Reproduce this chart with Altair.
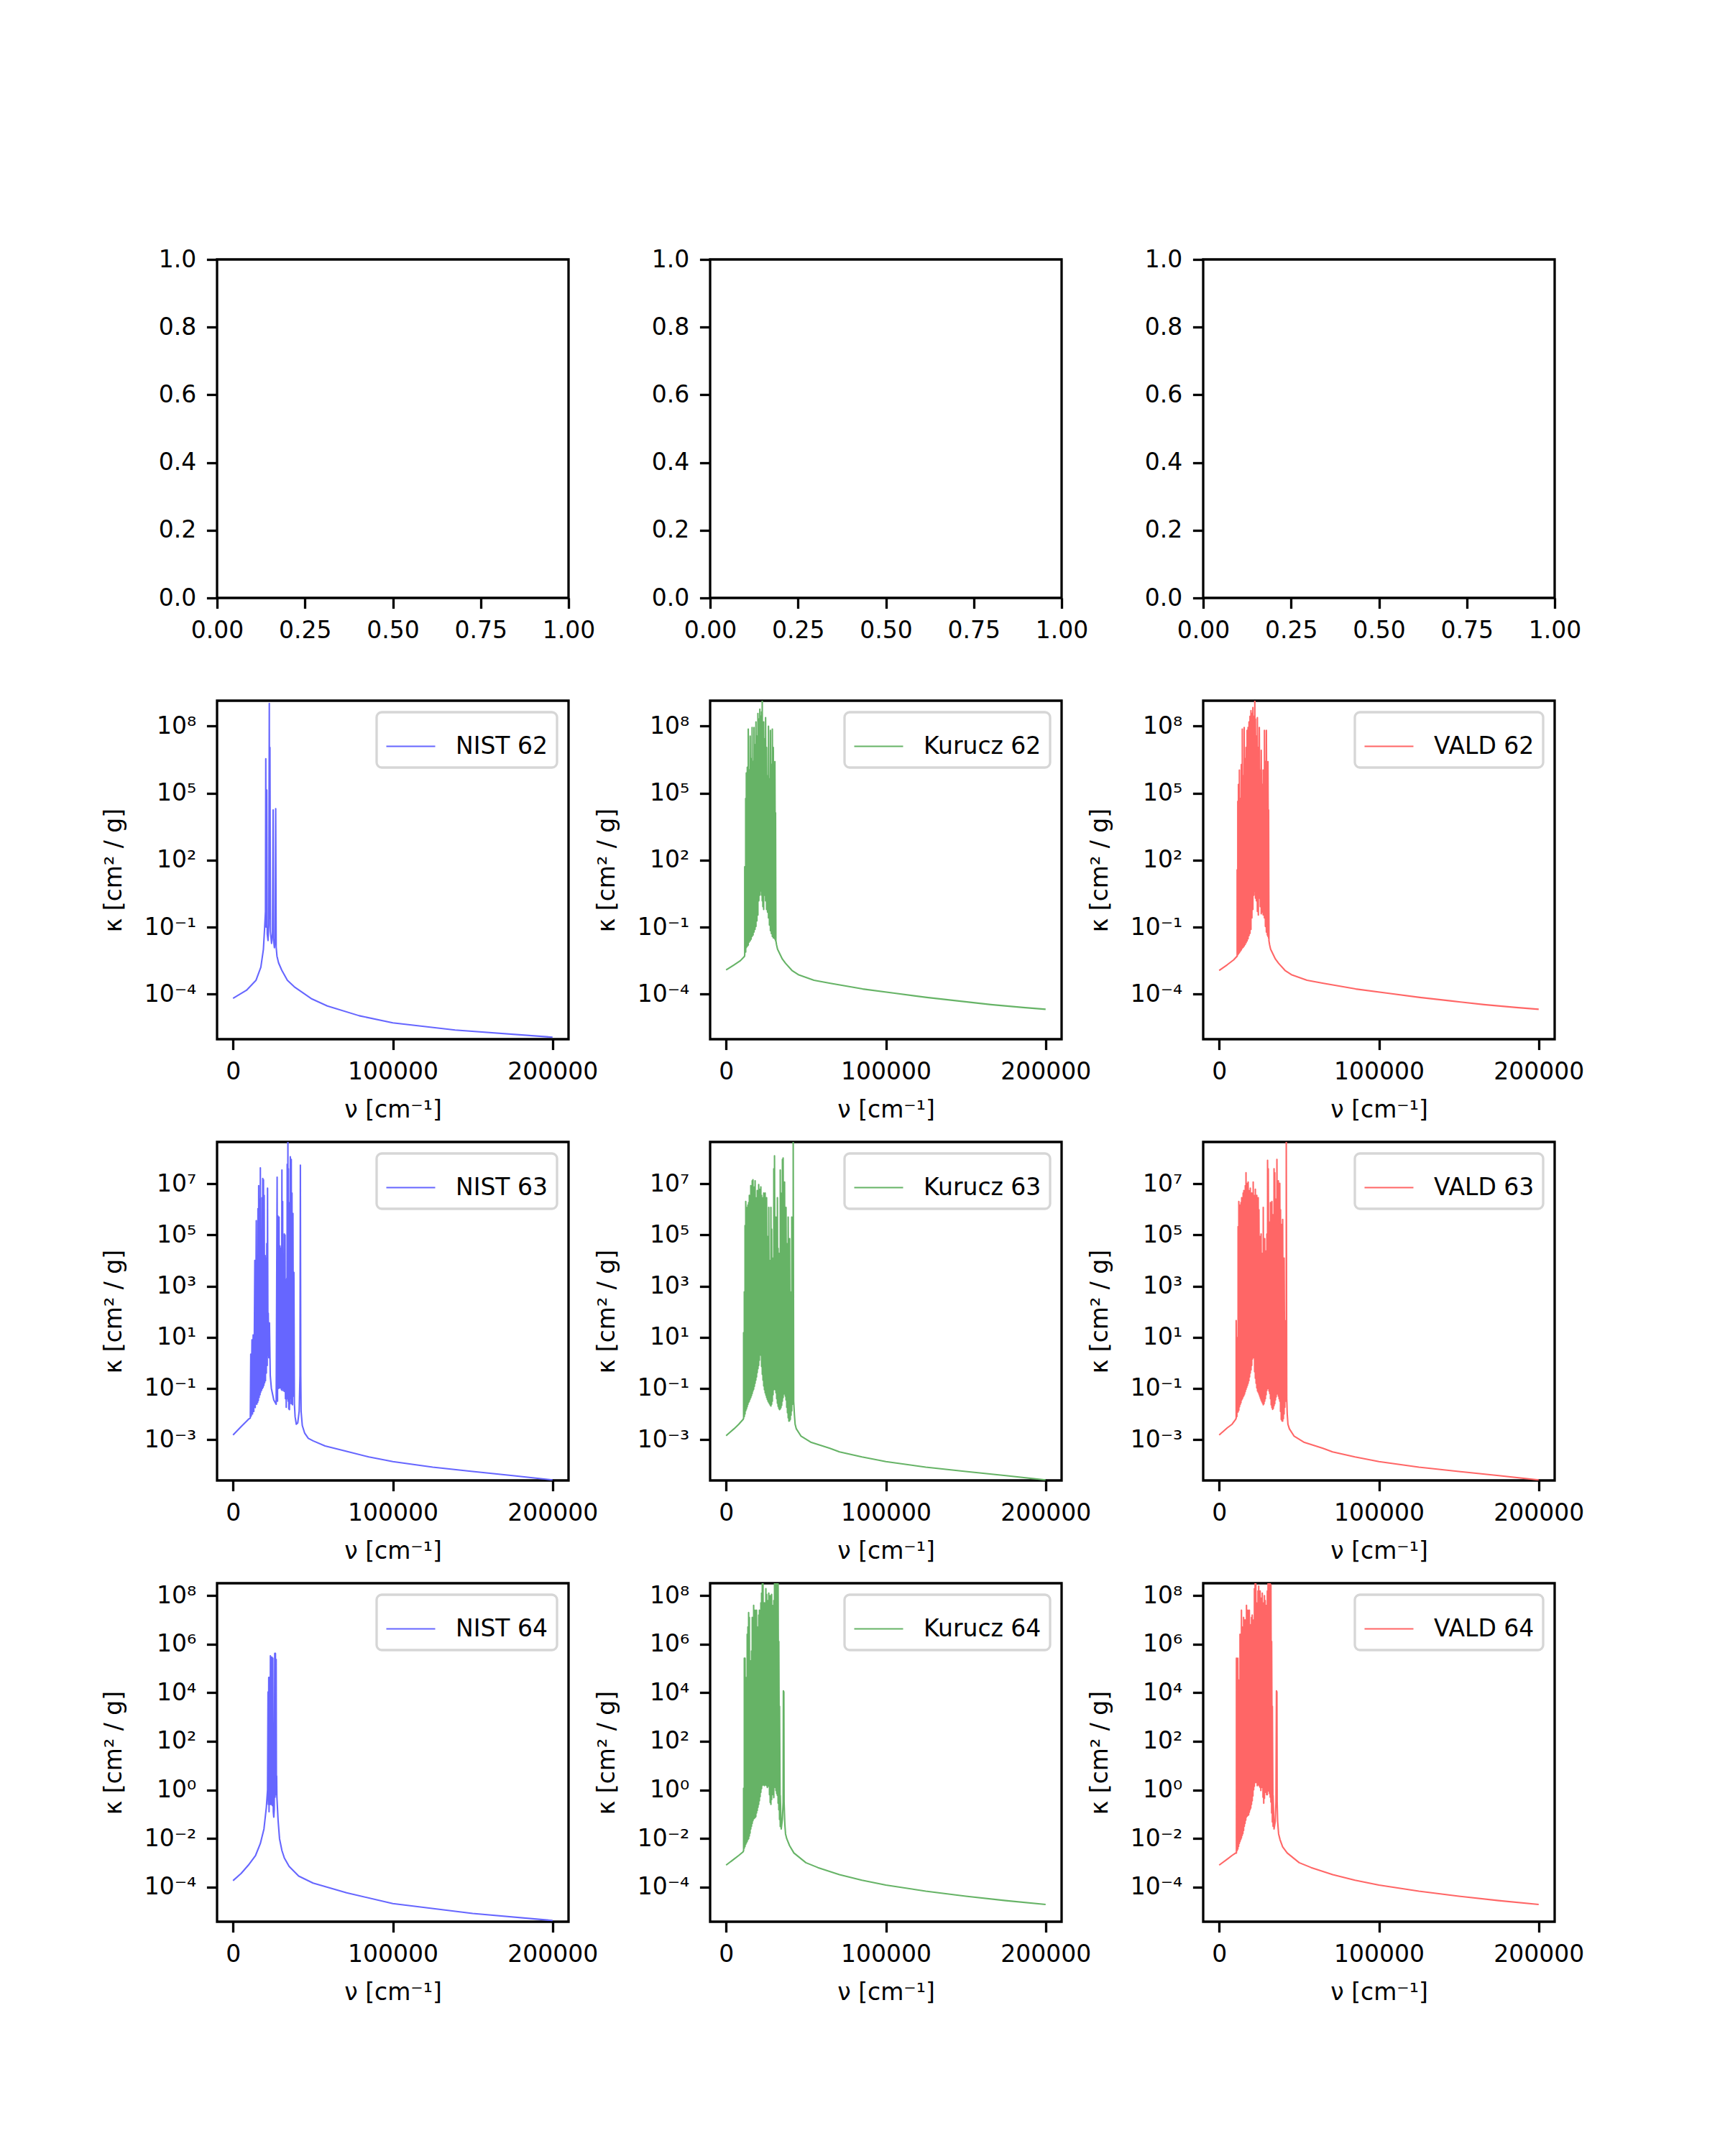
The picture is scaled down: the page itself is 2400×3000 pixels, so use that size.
import altair as alt
import pandas as pd

# ---------------------------------------------------------------------------
# Opacity spectra kappa(nu) for ions 62, 63, 64 from three line lists.
# Wavenumbers in cm^-1, opacities stored as log10(kappa / (cm^2 g^-1)).
# Sparse spectra are plain polylines; dense line forests are given as
# line positions with the peak value and the floor between neighbouring lines.
# ---------------------------------------------------------------------------

# ---- ion 62 ----
NIST62_NU = [0, 8400, 14400, 17400, 19000, 19800, 20300, 20500, 20700, 21100,
             21400, 21900, 22400, 22700, 22900, 23100, 23400, 24100, 24700, 25100,
             25400, 25900, 26400, 26700, 27000, 27500, 28500, 30500, 34000, 38800,
             48900, 59000, 79000, 100000, 139000, 200000]
NIST62_LOGK = [-4.19, -3.83, -3.38, -2.80, -2.00, -1.00, -0.30, 6.54, -1.00, 5.14,
               -1.30, -1.60, -0.90, 9.02, -0.60, 7.05, -1.20, -1.73, -1.30, 4.25,
               -1.60, -1.92, -1.50, 4.30, -1.90, -2.30, -2.60, -2.93, -3.38, -3.70,
               -4.20, -4.53, -4.97, -5.29, -5.61, -5.93]

KURUCZ62_LEFT_NU = [0, 5000, 9000, 11500]
KURUCZ62_LEFT_LOGK = [-2.92, -2.69, -2.50, -2.31]
KURUCZ62_LINE_NU = [11660, 12260, 12660, 13270, 13870, 14470, 15080, 15680, 16280, 16880,
                    17490, 18090, 18690, 19300, 19900, 20500, 21110, 21710, 22210, 22610,
                    23020, 23520, 24120, 24720, 25330, 25930, 26530, 27140, 27740, 28340,
                    28940, 29550, 30150, 30550, 30950]
KURUCZ62_LINE_PEAK = [1.70, 4.76, 5.90, 6.16, 7.87, 6.03, 7.55, 6.54, 7.94, 6.41,
                      7.94, 7.17, 8.19, 7.55, 8.57, 8.32, 8.76, 8.44, 8.64, 9.40,
                      7.81, 8.19, 7.43, 8.38, 7.05, 5.77, 8.00, 5.65, 7.81, 6.28,
                      7.87, 7.05, 4.25, 6.41, 4.12]
KURUCZ62_LINE_FLOOR = [-2.24, -2.12, -1.92, -1.86, -1.80, -1.67, -1.61, -1.54, -1.42, -1.35,
                       -1.22, -1.10, -0.97, -0.72, -0.46, 0.18, 0.43, 0.62, 0.43, 0.18,
                       -0.08, -0.21, 0.43, 0.18, -0.21, -0.33, -0.59, -0.91, -1.16, -1.29,
                       -1.42, -1.48, -1.50, -1.54, -1.61]
KURUCZ62_RIGHT_NU = [31160, 31600, 32200, 35200, 37200, 41200, 45200, 55000, 65300, 85400,
                     105500, 125600, 145700, 165800, 185900, 200000]
KURUCZ62_RIGHT_LOGK = [-1.61, -1.80, -1.99, -2.43, -2.62, -2.94, -3.13, -3.38, -3.52, -3.77,
                       -3.96, -4.15, -4.31, -4.47, -4.60, -4.68]

VALD62_LEFT_NU = [0, 5000, 9000, 11100]
VALD62_LEFT_LOGK = [-2.94, -2.69, -2.47, -2.31]
VALD62_LINE_NU = [11260, 11660, 12060, 12660, 13270, 13870, 14470, 15080, 15680, 16280,
                  16880, 17490, 18090, 18690, 19300, 19900, 20500, 21110, 21710, 22310,
                  22710, 23320, 23920, 24520, 25130, 25730, 26330, 26930, 27540, 28340,
                  28940, 29550, 30150, 30550, 30950]
VALD62_LINE_PEAK = [1.57, 4.63, 5.39, 6.03, 4.76, 6.28, 7.87, 5.77, 7.94, 6.54,
                    7.05, 7.81, 7.94, 8.19, 8.44, 8.70, 8.57, 8.83, 8.44, 9.40,
                    8.32, 7.55, 8.38, 7.05, 7.94, 6.03, 6.92, 5.39, 6.03, 7.81,
                    6.41, 7.81, 4.25, 6.41, 4.25]
VALD62_LINE_FLOOR = [-2.31, -2.24, -2.20, -2.15, -2.08, -2.02, -1.95, -1.90, -1.84, -1.78,
                     -1.70, -1.62, -1.52, -1.38, -1.28, -1.10, -0.59, -0.21, 0.43, 0.62,
                     0.30, 0.18, -0.30, -0.46, 0.30, -0.08, -0.40, -0.33, -0.45, -0.59,
                     -0.97, -1.22, -1.35, -1.42, -1.50]
VALD62_RIGHT_NU = [31160, 31600, 32200, 35200, 37200, 41200, 45200, 55000, 65300, 85400,
                   105500, 125600, 145700, 165800, 185900, 200000]
VALD62_RIGHT_LOGK = [-1.61, -1.80, -1.99, -2.43, -2.62, -2.94, -3.13, -3.38, -3.52, -3.77,
                     -3.96, -4.15, -4.31, -4.47, -4.60, -4.68]

# ---- ion 63 ----
NIST63_NU = [0, 5100, 9600, 10800,
             11100, 11400, 11850, 12200, 12600, 13000, 13650, 13900, 14550, 14850,
             15150, 15400, 15600, 15850, 16050, 16350, 16650, 16900, 17100, 17300,
             17550, 17850, 18150, 18400, 18600, 18800, 19050, 19300, 19500, 19800,
             20100, 20300, 20550, 20850, 21150, 21400, 21600, 21850, 22050, 22400,
             22800, 23300, 24000, 25500, 27000,
             27600, 27850, 28050, 28400, 28800, 29100, 29400, 29700, 30000, 30300,
             30600, 30800, 31050, 31300, 31500, 31800, 32100, 32300, 32550, 32800,
             33000, 33300, 33600, 33750, 33900, 34050, 34350, 34500, 34650, 34900,
             35100, 35300, 35550, 35700, 35850, 36100, 36450, 36700, 36900, 37200,
             37500, 37800, 38100, 38400, 38850, 39600, 40500, 41400, 41900,
             42150, 42400, 42600, 43350, 44850, 47100, 50100, 57600, 71100, 85000,
             100000, 125000, 150000, 175000, 200000]
NIST63_LOGK = [-2.82, -2.49, -2.21, -2.16,
               0.34, -2.08, 0.90, -2.00, 1.09, -1.90, 4.01, -1.75, 5.56, -1.62,
               3.25, -1.55, 6.03, -1.47, 6.93, -1.35, 6.41, -1.25, 7.63, -1.15,
               3.96, -1.08, 6.46, -1.00, 7.21, -0.95, 7.16, -0.88, 6.55, -0.78,
               4.20, -0.70, 4.10, -0.40, 4.67, -0.10, 6.83, 0.30, 1.94, 0.20,
               1.56, -0.50, -1.00, -1.45, -1.62,
               7.26, -1.50, 5.75, -1.00, 5.70, -0.98, 4.57, -0.98, 4.48, -1.05,
               7.54, -1.08, 6.31, -1.00, 3.44, -1.10, 5.04, -1.12, 5.00, -1.40,
               3.25, -1.74, 3.30, -1.40, 7.77, -1.20, 9.00, -1.50, 7.59, -1.80,
               4.76, -1.83, 6.27, -1.60, 8.06, -1.40, 7.96, -1.60, 6.64, -1.64,
               5.84, -1.30, 3.54, -1.60, -2.11, -2.40, -2.35, -1.90, -0.50,
               7.73, -0.50, -1.90, -2.45, -2.75, -2.95, -3.05, -3.25, -3.46, -3.68,
               -3.86, -4.08, -4.25, -4.41, -4.58]

KURUCZ63_LEFT_NU = [0, 4950, 7950, 10650]
KURUCZ63_LEFT_LOGK = [-2.85, -2.58, -2.40, -2.21]
KURUCZ63_LINE_NU = [10950, 11400, 11850, 12300, 12750, 13200, 13650, 14100, 14550, 15000,
                    15450, 15900, 16350, 16800, 17250, 17700, 18150, 18600, 19050, 19500,
                    19950, 20400, 20850, 21300, 21750, 22200, 22650, 23100, 23550, 24000,
                    24450, 24900, 25350, 25800, 26250, 26700, 27150, 27600, 28050, 28500,
                    28950, 29400, 29850, 30300, 30750, 31200, 31650, 32100, 32550, 33000,
                    33450, 33900, 34350, 34800, 35250, 35700, 36150, 36600, 37050, 37500,
                    37950, 38400, 38850, 39300, 39750, 40200, 40650, 41100, 41550, 42000]
KURUCZ63_LINE_PEAK = [1.18, 2.78, 5.37, 6.31, 5.33, 6.08, 6.17, 6.27, 6.55, 6.27,
                      6.93, 6.64, 7.12, 7.16, 6.74, 6.88, 7.12, 6.46, 5.99, 6.74,
                      5.80, 6.97, 6.36, 6.79, 6.88, 6.55, 2.50, 6.46, 6.64, 5.99,
                      6.64, 5.70, 6.46, 4.95, 4.38, 6.08, 4.01, 4.01, 6.08, 5.23,
                      3.91, 4.10, 7.59, 8.10, 5.61, 5.70, 5.04, 6.46, 4.48, 4.29,
                      3.25, 7.54, 6.64, 6.17, 7.96, 8.01, 7.02, 7.07, 5.23, 6.08,
                      4.67, 2.69, 5.70, 4.57, 4.86, 2.78, -0.61, 5.70, 2.78, 9.00]
KURUCZ63_LINE_FLOOR = [-2.17, -2.10, -2.00, -1.87, -1.80, -1.72, -1.63, -1.55, -1.50, -1.42,
                       -1.36, -1.28, -1.20, -1.10, -1.03, -0.92, -0.80, -0.68, -0.55, -0.38,
                       -0.23, -0.10, 0.10, 0.40, 0.30, -0.14, -0.45, -0.68, -0.90, -1.05,
                       -1.17, -1.26, -1.35, -1.43, -1.50, -1.55, -1.60, -1.65, -1.69, -1.62,
                       -1.50, -1.25, -1.05, -0.98, -1.05, -1.17, -1.40, -1.58, -1.70, -1.78,
                       -1.83, -1.80, -1.75, -1.66, -1.50, -1.36, -1.22, -1.20, -1.30, -1.45,
                       -1.74, -1.95, -2.15, -2.28, -2.27, -2.21, -2.05, -1.88, -1.62, -1.45]
KURUCZ63_RIGHT_NU = [42300, 42750, 43200, 43950, 46950, 52950, 64950, 71000, 85000, 100000,
                     125000, 150000, 175000, 200000]
KURUCZ63_RIGHT_LOGK = [-1.50, -2.02, -2.40, -2.58, -2.87, -3.10, -3.34, -3.48, -3.68, -3.86,
                       -4.08, -4.25, -4.41, -4.58]

VALD63_LEFT_NU = [0, 5100, 8100, 10350]
VALD63_LEFT_LOGK = [-2.82, -2.54, -2.40, -2.21]
VALD63_LINE_NU = [10650, 11100, 11850, 12300, 12750, 13200, 13650, 14100, 14550, 15000,
                  15450, 15900, 16350, 16800, 17250, 17700, 18150, 18600, 19050, 19500,
                  19950, 20400, 20850, 21300, 21750, 22200, 22650, 23100, 23550, 24000,
                  24450, 24900, 25350, 25800, 26250, 26700, 27150, 27600, 28050, 28500,
                  28950, 29400, 29850, 30300, 30750, 31200, 31650, 32100, 32550, 33000,
                  33450, 33900, 34350, 34800, 35250, 35700, 36150, 36600, 37050, 37500,
                  37950, 38400, 38850, 39300, 39750, 40200, 40650, 41100, 41550, 42000]
VALD63_LINE_PEAK = [1.65, 0.99, 5.33, 6.31, 3.73, 6.17, 6.27, 6.46, 6.17, 6.64,
                    6.74, 6.46, 6.93, 7.44, 7.02, 6.46, 7.07, 6.74, 5.99, 6.83,
                    5.51, 6.64, 6.08, 7.07, 6.55, 5.70, 6.79, 6.46, 6.55, 6.17,
                    6.46, 5.99, 4.95, 4.38, 5.04, 4.29, 3.54, 6.08, 3.63, 4.86,
                    3.54, 4.38, 5.04, 7.92, 7.59, 5.51, 4.10, 6.27, 5.33, 6.31,
                    4.57, 5.80, 7.59, 7.44, 6.41, 5.99, 7.96, 7.02, 7.12, 6.17,
                    7.02, 5.99, 5.42, 5.04, 5.61, 2.22, 4.10, 1.65, 1.47, 9.00]
VALD63_LINE_FLOOR = [-2.16, -2.10, -1.92, -1.85, -1.72, -1.63, -1.56, -1.45, -1.40, -1.33,
                     -1.28, -1.22, -1.13, -1.04, -0.96, -0.88, -0.80, -0.70, -0.55, -0.40,
                     -0.28, -0.10, 0.15, 0.45, 0.20, -0.35, -0.60, -0.80, -0.98, -1.10,
                     -1.15, -1.22, -1.30, -1.38, -1.46, -1.52, -1.58, -1.64, -1.60, -1.50,
                     -1.40, -1.25, -1.08, -1.00, -1.00, -1.10, -1.20, -1.40, -1.64, -1.75,
                     -1.82, -1.78, -1.68, -1.60, -1.45, -1.33, -1.22, -1.17, -1.30, -1.40,
                     -1.50, -1.90, -2.21, -2.27, -2.28, -2.18, -2.00, -1.74, -1.50, -1.36]
VALD63_RIGHT_NU = [42300, 42600, 43050, 43950, 46950, 52950, 64950, 71000, 85000, 100000,
                   125000, 150000, 175000, 200000]
VALD63_RIGHT_LOGK = [-1.40, -2.00, -2.40, -2.58, -2.87, -3.10, -3.34, -3.48, -3.68, -3.86,
                     -4.08, -4.25, -4.41, -4.58]

# ---- ion 64 ----
NIST64_NU = [0, 5100, 9600, 14100, 17100, 19350, 20850, 21600, 21900, 22100,
             22350, 22550, 22800, 23100, 23400, 23600, 23850, 24050, 24300, 24600,
             24900, 25200, 25500, 25800, 26100, 26300, 26550, 26800, 27000, 27150,
             27300, 27450, 28200, 29100, 30600, 32100, 35100, 41100, 50100, 71100,
             100000, 150000, 200000]
NIST64_LOGK = [-3.74, -3.44, -3.10, -2.70, -2.21, -1.61, -0.72, 0.00, 4.03, -0.60,
               4.63, -0.90, 4.63, -0.60, 5.52, -0.60, 5.42, -0.60, 5.47, -0.65,
               5.42, -0.90, -1.12, -0.80, 5.62, -0.30, 5.62, -0.20, 5.37, 0.00,
               0.57, -0.30, -1.25, -2.01, -2.50, -2.80, -3.15, -3.55, -3.84, -4.24,
               -4.68, -5.09, -5.38]

KURUCZ64_LEFT_NU = [0, 4950, 7950, 10650]
KURUCZ64_LEFT_LOGK = [-3.10, -2.85, -2.70, -2.55]
KURUCZ64_LINE_NU = [10950, 11400, 11850, 12300, 12750, 13200, 13650, 14100, 14550, 15000,
                    15450, 15900, 16350, 16800, 17250, 17700, 18150, 18600, 19050, 19500,
                    19950, 20400, 20850, 21300, 21750, 22200, 22650, 23100, 23550, 24000,
                    24450, 24900, 25350, 25800, 26250, 26700, 27150, 27600, 28050, 28500,
                    28950, 29400, 29850, 30300, 30750, 31200, 31650, 32100, 32550, 33000,
                    33450, 33900]
KURUCZ64_LINE_PEAK = [0.07, 5.42, 5.42, 4.23, 4.63, 6.41, 6.71, 7.30, 7.10, 5.32,
                      5.32, 5.72, 7.10, 6.51, 7.60, 7.10, 7.40, 6.91, 7.40, 6.71,
                      6.61, 7.20, 7.40, 7.20, 7.70, 8.10, 8.49, 8.54, 7.40, 7.70,
                      7.10, 8.29, 8.05, 7.20, 7.80, 8.10, 7.40, 8.00, 7.70, 8.05,
                      7.60, 6.02, 7.80, 8.54, 8.49, 8.19, 8.49, 8.39, 8.49, 6.11,
                      3.44, -0.23]
KURUCZ64_LINE_FLOOR = [-2.50, -2.40, -2.33, -2.24, -2.18, -2.12, -2.05, -2.01, -1.90, -1.78,
                       -1.61, -1.50, -1.38, -1.27, -1.20, -1.17, -1.14, -1.10, -0.95, -0.85,
                       -0.72, -0.60, -0.45, -0.28, -0.10, 0.05, 0.18, 0.27, 0.20, 0.17,
                       0.32, 0.20, 0.17, 0.10, 0.15, 0.27, -0.20, -0.52, -0.60, -0.40,
                       0.07, -0.20, -0.32, 0.17, 0.10, -0.03, -0.15, -0.23, -0.55, -0.82,
                       -1.22, -1.51]
KURUCZ64_RIGHT_NU = [34500, 35250, 35700, 35850, 36150, 36300, 36750, 37200, 37950, 39750,
                     42450, 49950, 57450, 70950, 85000, 100000, 125000, 150000, 175000, 200000]
KURUCZ64_RIGHT_LOGK = [-1.61, -1.20, -0.50, 4.08, 4.03, -0.50, -1.40, -1.81, -2.01, -2.30,
                       -2.60, -3.00, -3.20, -3.49, -3.72, -3.92, -4.17, -4.38, -4.56, -4.72]

VALD64_LEFT_NU = [0, 5100, 8100, 10350]
VALD64_LEFT_LOGK = [-3.10, -2.85, -2.70, -2.60]
VALD64_LINE_NU = [10800, 11250, 11700, 12150, 12600, 13050, 13500, 13950, 14400, 14850,
                  15300, 15750, 16200, 16650, 17100, 17550, 18000, 18450, 18900, 19350,
                  19800, 20250, 20700, 21150, 21600, 22050, 22500, 22950, 23400, 23850,
                  24300, 24750, 25200, 25650, 26100, 26550, 27000, 27450, 27900, 28350,
                  28800, 29250, 29700, 30150, 30600, 31050, 31500, 31950, 32400, 32850,
                  33300, 33750]
VALD64_LINE_PEAK = [5.42, 4.13, 5.42, 4.53, 4.13, 6.41, 6.41, 7.40, 6.71, 5.32,
                    7.10, 5.42, 7.00, 6.41, 7.60, 7.10, 7.40, 6.71, 7.40, 6.61,
                    6.81, 7.10, 7.20, 6.81, 7.00, 8.29, 8.49, 8.49, 7.70, 7.20,
                    8.19, 8.39, 7.70, 8.19, 7.40, 7.90, 8.10, 7.10, 7.70, 8.00,
                    7.80, 6.71, 7.60, 8.19, 8.54, 8.49, 8.29, 8.49, 8.44, 6.11,
                    3.44, -0.23]
VALD64_LINE_FLOOR = [-2.60, -2.50, -2.43, -2.33, -2.21, -2.13, -2.05, -1.98, -1.88, -1.80,
                     -1.67, -1.50, -1.38, -1.25, -1.12, -1.08, -1.05, -1.03, -0.92, -0.82,
                     -0.75, -0.60, -0.45, -0.25, 0.00, 0.15, 0.30, 0.40, 0.30, 0.17,
                     0.22, 0.20, 0.15, 0.10, -0.03, 0.10, 0.20, -0.30, -0.55, -0.35,
                     -0.10, 0.05, -0.20, -0.20, 0.00, -0.05, -0.15, -0.30, -0.50, -0.95,
                     -1.32, -1.50]
VALD64_RIGHT_NU = [34350, 35100, 35550, 35850, 36150, 36300, 36600, 37200, 38100, 39750,
                   42600, 50100, 57600, 71100, 85000, 100000, 125000, 150000, 175000, 200000]
VALD64_RIGHT_LOGK = [-1.61, -1.30, -0.50, 4.08, 4.03, -0.50, -1.30, -1.81, -2.05, -2.35,
                     -2.60, -3.00, -3.20, -3.49, -3.72, -3.92, -4.17, -4.38, -4.56, -4.72]

# ---- axes ----
IONS = [62, 63, 64]
SOURCES = ["NIST", "Kurucz", "VALD"]
SOURCE_COLORS = ["#6666ff", "#66b366", "#ff6666"]
NU_TICKS = [0, 100000, 200000]
NU_RANGE = [-10000, 210000]
LOGK_RANGE = {62: (-6.02, 9.14), 63: (-4.60, 8.64), 64: (-5.43, 8.51)}
LOGK_TICKS = {62: [-4, -1, 2, 5, 8], 63: [-3, -1, 1, 3, 5, 7], 64: [-4, -2, 0, 2, 4, 6, 8]}
EMPTY_X_TICKS = [0.0, 0.25, 0.5, 0.75, 1.0]
EMPTY_Y_TICKS = [0.0, 0.2, 0.4, 0.6, 0.8, 1.0]

PANEL_W = 489
PANEL_H = 471
FONT = "DejaVu Sans"
FS = 33


def polyline(nu, logk):
    return list(zip(nu, logk))


def forest(nu, peak, floor):
    pts = []
    for n, p, f in zip(nu, peak, floor):
        pts.append((n, f))
        pts.append((n, p))
    return pts


SPECTRA = {
    ("NIST", 62): polyline(NIST62_NU, NIST62_LOGK),
    ("Kurucz", 62): polyline(KURUCZ62_LEFT_NU, KURUCZ62_LEFT_LOGK)
    + forest(KURUCZ62_LINE_NU, KURUCZ62_LINE_PEAK, KURUCZ62_LINE_FLOOR)
    + polyline(KURUCZ62_RIGHT_NU, KURUCZ62_RIGHT_LOGK),
    ("VALD", 62): polyline(VALD62_LEFT_NU, VALD62_LEFT_LOGK)
    + forest(VALD62_LINE_NU, VALD62_LINE_PEAK, VALD62_LINE_FLOOR)
    + polyline(VALD62_RIGHT_NU, VALD62_RIGHT_LOGK),
    ("NIST", 63): polyline(NIST63_NU, NIST63_LOGK),
    ("Kurucz", 63): polyline(KURUCZ63_LEFT_NU, KURUCZ63_LEFT_LOGK)
    + forest(KURUCZ63_LINE_NU, KURUCZ63_LINE_PEAK, KURUCZ63_LINE_FLOOR)
    + polyline(KURUCZ63_RIGHT_NU, KURUCZ63_RIGHT_LOGK),
    ("VALD", 63): polyline(VALD63_LEFT_NU, VALD63_LEFT_LOGK)
    + forest(VALD63_LINE_NU, VALD63_LINE_PEAK, VALD63_LINE_FLOOR)
    + polyline(VALD63_RIGHT_NU, VALD63_RIGHT_LOGK),
    ("NIST", 64): polyline(NIST64_NU, NIST64_LOGK),
    ("Kurucz", 64): polyline(KURUCZ64_LEFT_NU, KURUCZ64_LEFT_LOGK)
    + forest(KURUCZ64_LINE_NU, KURUCZ64_LINE_PEAK, KURUCZ64_LINE_FLOOR)
    + polyline(KURUCZ64_RIGHT_NU, KURUCZ64_RIGHT_LOGK),
    ("VALD", 64): polyline(VALD64_LEFT_NU, VALD64_LEFT_LOGK)
    + forest(VALD64_LINE_NU, VALD64_LINE_PEAK, VALD64_LINE_FLOOR)
    + polyline(VALD64_RIGHT_NU, VALD64_RIGHT_LOGK),
}

SUPERSCRIPT = str.maketrans("-0123456789", "⁻⁰¹²³⁴⁵⁶⁷⁸⁹")


def decade_label_expr(exponents):
    e = "round(log(datum.value) / LN10)"
    parts = [f"{e} == {k} ? '10{str(k).translate(SUPERSCRIPT)}'" for k in exponents]
    return " : ".join(parts) + " : ''"


AXIS_STYLE = dict(labelFlush=False, labelOverlap=False, labelBound=False)


def empty_panel():
    df = pd.DataFrame({"x": [0.5], "y": [0.5]})
    return alt.Chart(df).mark_point(opacity=0).encode(
        x=alt.X("x:Q", scale=alt.Scale(domain=[0, 1], nice=False, zero=False),
                axis=alt.Axis(values=EMPTY_X_TICKS, format=".2f", title=None, **AXIS_STYLE)),
        y=alt.Y("y:Q", scale=alt.Scale(domain=[0, 1], nice=False, zero=False),
                axis=alt.Axis(values=EMPTY_Y_TICKS, format=".1f", title=None, **AXIS_STYLE)),
    ).properties(width=PANEL_W, height=PANEL_H)


def spectrum_panel(source, color, ion):
    pts = SPECTRA[(source, ion)]
    df = pd.DataFrame(pts, columns=["nu", "logk"])
    df["kappa"] = 10.0 ** df["logk"]
    df["i"] = range(len(df))
    label = f"{source} {ion}"
    df["series"] = label
    lo, hi = LOGK_RANGE[ion]
    exps = LOGK_TICKS[ion]
    return alt.Chart(df).mark_line(clip=True, strokeWidth=2.08, strokeJoin="round").encode(
        x=alt.X("nu:Q", scale=alt.Scale(domain=NU_RANGE, nice=False, zero=False),
                axis=alt.Axis(values=NU_TICKS, format="d", title="ν [cm⁻¹]",
                              titleY=98, titleBaseline="middle", **AXIS_STYLE)),
        y=alt.Y("kappa:Q",
                scale=alt.Scale(type="log", domain=[10.0 ** lo, 10.0 ** hi], nice=False),
                axis=alt.Axis(values=[10.0 ** k for k in exps],
                              labelExpr=decade_label_expr(exps),
                              title="κ [cm² / g]", titleX=-144, titleY=PANEL_H / 2,
                              titleBaseline="middle", **AXIS_STYLE)),
        order=alt.Order("i:Q"),
        color=alt.Color("series:N", scale=alt.Scale(domain=[label], range=[color]),
                        legend=alt.Legend(title=None, orient="top-right", offset=16)),
    ).properties(width=PANEL_W, height=PANEL_H)


panels = [empty_panel() for _ in SOURCES]
for ion in IONS:
    panels += [spectrum_panel(s, c, ion) for s, c in zip(SOURCES, SOURCE_COLORS)]

chart = alt.concat(
    *panels, columns=3, spacing={"row": 143, "column": 197}, bounds="flush"
).resolve_scale(color="independent")

chart = chart.properties(
    padding={"left": 140, "top": 343, "right": 0, "bottom": 0},
    background="white",
).configure_view(
    stroke="black", strokeWidth=3.3
).configure_axis(
    domain=False, grid=False, ticks=True, tickSize=14.6, tickWidth=3.3, tickColor="black",
    labelFont=FONT, labelFontSize=FS, labelColor="black", labelPadding=14.6,
    titleFont=FONT, titleFontSize=FS, titleFontWeight="normal", titleColor="black",
).configure_legend(
    padding=12, strokeColor="#d6d6d6", strokeWidth=3.3, fillColor="white", cornerRadius=7,
    symbolType="stroke", symbolSize=4624, symbolStrokeWidth=2.08, labelFont=FONT,
    labelFontSize=FS, labelColor="black", labelOffset=27, labelLimit=600,
)

chart.save("out.html", embed_options={"renderer": "svg", "actions": False})
